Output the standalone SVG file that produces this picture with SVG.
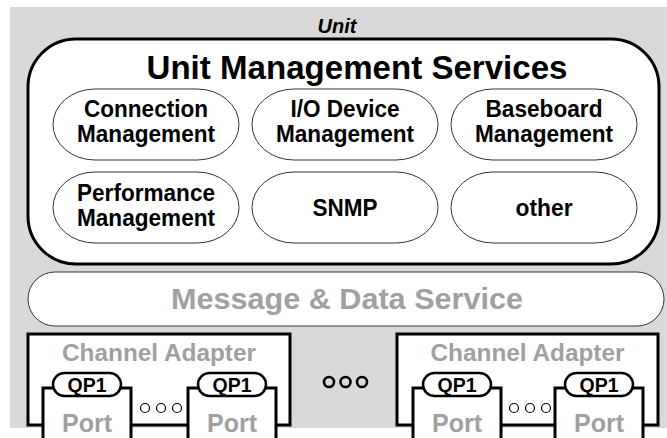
<svg xmlns="http://www.w3.org/2000/svg" width="667" height="438" viewBox="0 0 667 438">
<style>
text{font-family:"Liberation Sans",Arial,sans-serif;font-weight:bold;text-anchor:middle}
.svc{fill:#fff;stroke:#333;stroke-width:1}
.lbl{font-size:24px;fill:#000}
.grey{fill:#a0a0a0}
.thick{fill:#fff;stroke:#000;stroke-width:3}
.pill{fill:#fff;stroke:#000;stroke-width:2.5}
.qp{font-size:19.5px;fill:#000}
.port{font-size:25px}
.ca{font-size:23px}
.dot{fill:none;stroke:#000;stroke-width:1.2}
.bigdot{fill:none;stroke:#000;stroke-width:2.6}
</style>
<rect x="10" y="7" width="657" height="421" fill="#d9d9d9"/>
<g id="unit">
<text x="337" y="33" font-size="20" font-style="italic">Unit</text>
</g>
<g id="ums">
<rect x="28" y="39" width="631" height="225" rx="48" class="thick"/>
<text x="357" y="79" font-size="34" textLength="421" lengthAdjust="spacingAndGlyphs">Unit Management Services</text>
</g>
<g id="connection-management">
<rect x="53" y="89" width="186" height="71" rx="42" ry="35.5" class="svc"/>
<text class="lbl" x="146" y="117" textLength="124" lengthAdjust="spacingAndGlyphs">Connection</text>
<text class="lbl" x="146" y="142" textLength="138" lengthAdjust="spacingAndGlyphs">Management</text>
</g>
<g id="io-device-management">
<rect x="252" y="89" width="186" height="71" rx="42" ry="35.5" class="svc"/>
<text class="lbl" x="345" y="117" textLength="109" lengthAdjust="spacingAndGlyphs">I/O Device</text>
<text class="lbl" x="345" y="142" textLength="138" lengthAdjust="spacingAndGlyphs">Management</text>
</g>
<g id="baseboard-management">
<rect x="451" y="89" width="186" height="71" rx="42" ry="35.5" class="svc"/>
<text class="lbl" x="544" y="117" textLength="117" lengthAdjust="spacingAndGlyphs">Baseboard</text>
<text class="lbl" x="544" y="142" textLength="138" lengthAdjust="spacingAndGlyphs">Management</text>
</g>
<g id="performance-management">
<rect x="53" y="172" width="186" height="71" rx="42" ry="35.5" class="svc"/>
<text class="lbl" x="146" y="201" textLength="138" lengthAdjust="spacingAndGlyphs">Performance</text>
<text class="lbl" x="146" y="226" textLength="138" lengthAdjust="spacingAndGlyphs">Management</text>
</g>
<g id="snmp">
<rect x="252" y="172" width="186" height="71" rx="42" ry="35.5" class="svc"/>
<text class="lbl" x="345" y="216" textLength="65" lengthAdjust="spacingAndGlyphs">SNMP</text>
</g>
<g id="other">
<rect x="451" y="172" width="186" height="71" rx="42" ry="35.5" class="svc"/>
<text class="lbl" x="544" y="216" textLength="57" lengthAdjust="spacingAndGlyphs">other</text>
</g>
<g id="message-data-service">
<rect x="28" y="272" width="636" height="54" rx="27" class="svc"/>
<text class="grey" x="347" y="309" font-size="29" textLength="352" lengthAdjust="spacingAndGlyphs">Message &amp; Data Service</text>
</g>
<g id="channel-adapter-1">
<rect x="28" y="334" width="262" height="91" class="thick"/>
<text class="grey ca" x="159" y="361" textLength="194" lengthAdjust="spacingAndGlyphs">Channel Adapter</text>
<rect x="43" y="388" width="88" height="60" class="thick"/>
<rect x="53" y="373" width="68" height="23" rx="11.5" class="pill"/>
<text class="qp" x="87" y="391.5">QP1</text>
<text class="grey port" x="87" y="432">Port</text>
<circle cx="145" cy="408" r="4.5" class="dot"/>
<circle cx="161" cy="408" r="4.5" class="dot"/>
<circle cx="177" cy="408" r="4.5" class="dot"/>
<rect x="188" y="388" width="88" height="60" class="thick"/>
<rect x="198" y="373" width="68" height="23" rx="11.5" class="pill"/>
<text class="qp" x="232" y="391.5">QP1</text>
<text class="grey port" x="232" y="432">Port</text>
</g>
<g id="ellipsis">
<circle cx="329" cy="382" r="5" class="bigdot"/>
<circle cx="345.5" cy="382" r="5" class="bigdot"/>
<circle cx="362" cy="382" r="5" class="bigdot"/>
</g>
<g id="channel-adapter-2">
<rect x="397" y="334" width="261" height="91" class="thick"/>
<text class="grey ca" x="527.5" y="361" textLength="194" lengthAdjust="spacingAndGlyphs">Channel Adapter</text>
<rect x="413" y="388" width="88" height="60" class="thick"/>
<rect x="423" y="373" width="68" height="23" rx="11.5" class="pill"/>
<text class="qp" x="457" y="391.5">QP1</text>
<text class="grey port" x="457" y="432">Port</text>
<circle cx="514" cy="408" r="4.5" class="dot"/>
<circle cx="530" cy="408" r="4.5" class="dot"/>
<circle cx="546" cy="408" r="4.5" class="dot"/>
<rect x="555" y="388" width="88" height="60" class="thick"/>
<rect x="565" y="373" width="68" height="23" rx="11.5" class="pill"/>
<text class="qp" x="599" y="391.5">QP1</text>
<text class="grey port" x="599" y="432">Port</text>
</g>
<g id="connectors"/>
</svg>
